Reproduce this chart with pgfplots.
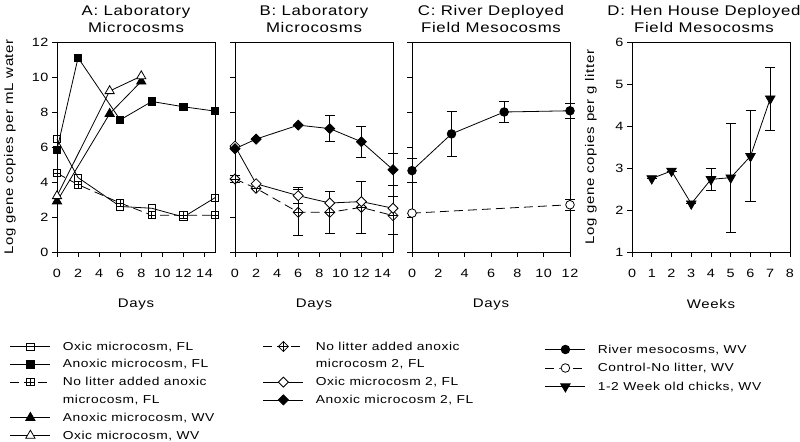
\documentclass[border=0pt]{standalone}
\usepackage{fontspec}
\setmainfont{Liberation Sans}[LetterSpace=5, FakeStretch=1.2]
\usepackage{pgfplots}
\pgfplotsset{compat=1.18}
\usepackage{pgfplotstable}

\pgfdeclareplotmark{sqplus}{%
  \pgfpathrectangle{\pgfpoint{-\pgfplotmarksize}{-\pgfplotmarksize}}{\pgfpoint{2\pgfplotmarksize}{2\pgfplotmarksize}}%
  \pgfusepathqfillstroke
  \pgfpathmoveto{\pgfpoint{-\pgfplotmarksize}{0pt}}\pgfpathlineto{\pgfpoint{\pgfplotmarksize}{0pt}}%
  \pgfpathmoveto{\pgfpoint{0pt}{-\pgfplotmarksize}}\pgfpathlineto{\pgfpoint{0pt}{\pgfplotmarksize}}%
  \pgfusepathqstroke}
\pgfdeclareplotmark{diam}{%
  \pgfpathmoveto{\pgfpoint{0pt}{\pgfplotmarksize}}%
  \pgfpathlineto{\pgfpoint{\pgfplotmarksize}{0pt}}%
  \pgfpathlineto{\pgfpoint{0pt}{-\pgfplotmarksize}}%
  \pgfpathlineto{\pgfpoint{-\pgfplotmarksize}{0pt}}%
  \pgfpathclose\pgfusepathqfillstroke}
\pgfdeclareplotmark{diamplus}{%
  \pgfpathmoveto{\pgfpoint{0pt}{\pgfplotmarksize}}%
  \pgfpathlineto{\pgfpoint{\pgfplotmarksize}{0pt}}%
  \pgfpathlineto{\pgfpoint{0pt}{-\pgfplotmarksize}}%
  \pgfpathlineto{\pgfpoint{-\pgfplotmarksize}{0pt}}%
  \pgfpathclose\pgfusepathqfillstroke
  \pgfpathmoveto{\pgfpoint{-\pgfplotmarksize}{0pt}}\pgfpathlineto{\pgfpoint{\pgfplotmarksize}{0pt}}%
  \pgfpathmoveto{\pgfpoint{0pt}{-\pgfplotmarksize}}\pgfpathlineto{\pgfpoint{0pt}{\pgfplotmarksize}}%
  \pgfusepathqstroke}

% Panel A
\pgfplotstableread{
x y
0 6.45
2 4.25
6 2.6
9 2.5
12 2.0
15 3.1
}\oxicFL
\pgfplotstableread{
x y
0 5.85
2 11.1
6 7.55
9 8.6
12 8.3
15 8.05
}\anoxicFL
\pgfplotstableread{
x y
0 4.5
2 3.85
6 2.8
9 2.1
12 2.1
15 2.1
}\nolitFL
\pgfplotstableread{
x y
0 2.9
5 7.9
8 9.75
}\anoxicWV
\pgfplotstableread{
x y
0 3.2
5 9.2
8 10.05
}\oxicWV
% Panel B
\pgfplotstableread{
x y e
0 5.9 0
2 6.45 0
6 7.25 0
9 7.05 0.75
12 6.3 0.88
15 4.7 0.92
}\anoxicB
\pgfplotstableread{
x y e
0 6.05 0
2 3.9 0
6 3.22 0.45
9 2.8 0
12 2.88 0
15 2.5 0
}\oxicB
\pgfplotstableread{
x y e
0 4.17 0.2
2 3.64 0
6 2.27 1.3
9 2.27 1.18
12 2.55 1.5
15 2.08 1.1
}\nolitB
% Panel C
\pgfplotstableread{
x y e
0 4.65 0.7
3 6.75 1.3
7 8.0 0.6
12 8.07 0.43
}\river
\pgfplotstableread{
x y e
0 2.22 0
12 2.7 0.33
}\control
% Panel D
\pgfplotstableread{
x y e
1 2.75 0
2 2.93 0
3 2.15 0
4 2.73 0.27
5 2.77 1.3
6 3.28 1.08
7 4.65 0.75
}\chicks

\pgfplotsset{
  panel/.style={
    scale only axis, width=158bp, height=210bp, clip=false,
    tick align=outside, tick pos=left, major tick length=5bp,
    axis line style={line width=0.8bp},
    every tick/.style={black, line width=0.8bp},
    tick label style={font=\fontsize{12bp}{14bp}\selectfont},
    xticklabel style={yshift=-9bp},
    /pgf/number format/assume math mode=true,
    title style={align=center, font=\fontsize{14bp}{17bp}\selectfont,
      at={(axis description cs:0.5,1)}, anchor=south, inner sep=0pt, yshift=3bp},
    label style={font=\fontsize{12.5bp}{15bp}\selectfont},
    xlabel style={at={([yshift=-52bp]axis description cs:0.5,0)}, anchor=center},
    every axis plot/.append style={line width=0.8bp, black},
    legend cell align=left,
    legend image code/.code={\draw[mark repeat=2,mark phase=2,##1] plot coordinates {(0bp,0bp) (20bp,0bp) (40bp,0bp)};},
    legend style={draw=none, fill=none, inner sep=0pt, outer sep=0pt,
      row sep=4.8bp, column sep=12bp, anchor=north west,
      font=\fontsize{11.5bp}{14bp}\selectfont,
      nodes={inner sep=0pt, text height=10bp, text depth=3bp}},
  },
  errs/.style={forget plot, draw=none, mark=none,
    error bars/.cd, y dir=both, y explicit,
    error bar style={draw=black, solid, line width=0.8bp},
    error mark options={draw=black, solid, line width=0.8bp, mark size=5bp, rotate=90}},
  dashy/.style={dash pattern=on 9bp off 5bp},
}

\begin{document}
\begin{tikzpicture}
\useasboundingbox (0,0) rectangle (800bp,442bp);

% ---------- A ----------
\begin{axis}[panel, at={(57bp,190bp)}, anchor=south west,
  xmin=0, xmax=15, xtick={0,2,...,14}, ymin=0, ymax=12, ytick={0,2,...,12},
  title={A: Laboratory\\Microcosms}, xlabel={Days},
  ylabel={Log gene copies per mL water},
  ylabel style={at={([xshift=-47bp]axis description cs:0,0.5)}, anchor=center},
  legend style={at={(0,0)}, xshift=-47bp, yshift=-88bp}]
\addplot[mark=square, mark size=3.6bp, mark options={fill=white, solid}] table {\oxicFL};
\addlegendentry{Oxic microcosm, FL}
\addplot[mark=square*, mark size=3.6bp, mark options={fill=black, solid}] table {\anoxicFL};
\addlegendentry{Anoxic microcosm, FL}
\addplot[dashy, mark=sqplus, mark size=3.6bp, mark options={fill=white, solid}] table {\nolitFL};
\addlegendentry{No litter added anoxic}
\addlegendimage{empty legend}
\addlegendentry{microcosm, FL}
\addplot[mark=triangle*, mark size=5.3bp, mark options={fill=black, solid}] table {\anoxicWV};
\addlegendentry{Anoxic microcosm, WV}
\addplot[mark=triangle*, mark size=5.3bp, mark options={fill=white, solid}] table {\oxicWV};
\addlegendentry{Oxic microcosm, WV}
\end{axis}

% ---------- B ----------
\begin{axis}[panel, at={(235bp,190bp)}, anchor=south west,
  xmin=0, xmax=15, xtick={0,2,...,14}, ymin=0, ymax=12, ytick={0,2,...,12},
  yticklabels={},
  title={B: Laboratory\\Microcosms}, xlabel={Days},
  legend style={at={(0,0)}, xshift=28bp, yshift=-88bp}]
\addplot[errs] table[y error=e] {\anoxicB};
\addplot[errs] table[y error=e] {\oxicB};
\addplot[errs] table[y error=e] {\nolitB};
\addplot[dashy, mark=diamplus, mark size=5bp, mark options={fill=white, solid}] table {\nolitB};
\addlegendentry{No litter added anoxic}
\addlegendimage{empty legend}
\addlegendentry{microcosm 2, FL}
\addplot[mark=diam, mark size=5bp, mark options={fill=white, solid}] table {\oxicB};
\addlegendentry{Oxic microcosm 2, FL}
\addplot[mark=diam, mark size=5bp, mark options={fill=black, solid}] table {\anoxicB};
\addlegendentry{Anoxic microcosm 2, FL}
\end{axis}

% ---------- C ----------
\begin{axis}[panel, at={(412bp,190bp)}, anchor=south west,
  xmin=0, xmax=12, xtick={0,2,...,12}, ymin=0, ymax=12, ytick={0,2,...,12},
  yticklabels={},
  title={C: River Deployed\\Field Mesocosms}, xlabel={Days},
  legend style={at={(0,0)}, xshift=133bp, yshift=-91bp, row sep=5.5bp}]
\addplot[errs] table[y error=e] {\river};
\addplot[errs] table[y error=e] {\control};
\addplot[mark=*, mark size=4.3bp, mark options={fill=black, solid}] table {\river};
\addlegendentry{River mesocosms, WV}
\addplot[dashy, mark=*, mark size=4.3bp, mark options={fill=white, solid}] table {\control};
\addlegendentry{Control-No litter, WV}
\addlegendimage{black, line width=0.8bp, mark=triangle*, mark size=5.5bp, mark options={fill=black, solid, rotate=180}}
\addlegendentry{1-2 Week old chicks, WV}
\end{axis}

% ---------- D ----------
\begin{axis}[panel, at={(632bp,190bp)}, anchor=south west,
  xmin=0, xmax=8, xtick={0,1,...,8}, ymin=1, ymax=6, ytick={1,2,...,6},
  title={D: Hen House Deployed\\Field Mesocosms}, title style={xshift=-7bp},
  xlabel={Weeks},
  ylabel={Log gene copies per g litter},
  ylabel style={at={([xshift=-41bp]axis description cs:0,0.5)}, anchor=center}]
\addplot[errs] table[y error=e] {\chicks};
\addplot[mark=triangle*, mark size=5.5bp, mark options={fill=black, solid, rotate=180}] table {\chicks};
\end{axis}
\end{tikzpicture}
\end{document}
